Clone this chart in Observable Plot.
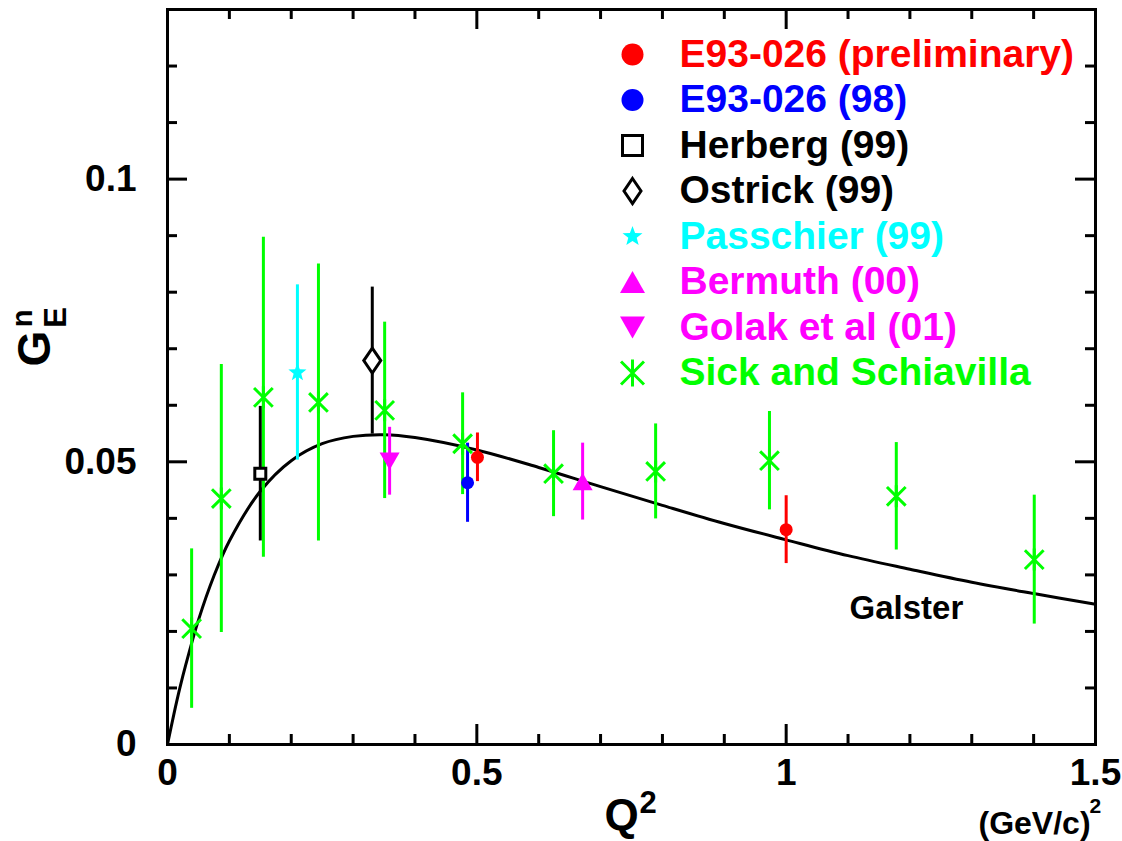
<!DOCTYPE html>
<html>
<head>
<meta charset="utf-8">
<script src="https://cdn.jsdelivr.net/npm/d3@7"></script>
<script src="https://cdn.jsdelivr.net/npm/@observablehq/plot@0.6"></script>
<style>
  html, body { margin: 0; padding: 0; background: #ffffff; }
  #chart svg { display: block; }
</style>
</head>
<body>
<div id="chart"></div>
<script>
// ---------------- data ----------------
const seriesNames = ["E93-026 (preliminary)", "E93-026 (98)", "Herberg (99)", "Ostrick (99)",
  "Passchier (99)", "Bermuth (00)", "Golak et al (01)", "Sick and Schiavilla"];
const seriesColors = ["#ff0000", "#0000ff", "#000000", "#000000", "#00ffff", "#ff00ff", "#ff00ff", "#00ff00"];

const e93PrelimQ2 = [0.501, 1.0];
const e93PrelimGE = [0.0508, 0.0380];
const e93PrelimErr = [0.0043, 0.0060];

const e93_98Q2 = [0.485];
const e93_98GE = [0.0463];
const e93_98Err = [0.0070];

const herbergQ2 = [0.150];
const herbergGE = [0.0479];
const herbergErr = [0.0119];

const ostrickQ2 = [0.331];
const ostrickGE = [0.0679];
const ostrickErr = [0.0130];

const passchierQ2 = [0.210];
const passchierGE = [0.0658];
const passchierErr = [0.0155];

const bermuthQ2 = [0.671];
const bermuthGE = [0.0465];
const bermuthErr = [0.0068];

const golakQ2 = [0.359];
const golakGE = [0.0501];
const golakErr = [0.0060];

const sickQ2 = [0.039, 0.087, 0.155, 0.244, 0.351, 0.477, 0.624, 0.789, 0.973, 1.178, 1.401];
const sickGE = [0.0205, 0.0435, 0.0614, 0.0605, 0.0591, 0.0532, 0.0479, 0.0483, 0.0502, 0.0439, 0.0327];
const sickErr = [0.0141, 0.0237, 0.0283, 0.0245, 0.0156, 0.0090, 0.0076, 0.0084, 0.0087, 0.0095, 0.0114];

// Galster curve, values
const galsterQ2 = [0, 0.01, 0.02, 0.03, 0.05, 0.075, 0.1, 0.15, 0.2, 0.25, 0.3, 0.35, 0.4, 0.5, 0.6, 0.7, 0.8, 0.9, 1.0, 1.1, 1.2, 1.3, 1.4, 1.5];
const galsterGE = [0, 0.0052, 0.0100, 0.0143, 0.0220, 0.0298, 0.0360, 0.0448, 0.0502, 0.0532, 0.0545, 0.0548, 0.0543, 0.0521, 0.0490, 0.0456, 0.0423, 0.0391, 0.0362, 0.0334, 0.0310, 0.0287, 0.0267, 0.0248];
const galsterLabel = "Galster";

const xTickLabels = [0, 0.5, 1, 1.5];
const xMajorTicks = [0, 0.5, 1, 1.5];
const xMinorTicks = [0.1, 0.2, 0.3, 0.4, 0.6, 0.7, 0.8, 0.9, 1.1, 1.2, 1.3, 1.4];
const yTickLabels = [0, 0.05, 0.1];
const yMajorTicks = [0, 0.05, 0.1];
const yMinorTicks = [0.01, 0.02, 0.03, 0.04, 0.06, 0.07, 0.08, 0.09, 0.11, 0.12];

// ---------------- layout ----------------
const W = 1122, H = 841;
const mL = 167, mR = 27, mT = 9, mB = 97;
const innerW = W - mL - mR, innerH = H - mT - mB;
const FONT = "'Liberation Sans', Arial, Helvetica, sans-serif";

// custom marker shapes (radius = sqrt(size/pi))
const shape = fn => ({ draw(ctx, size) { fn(ctx, Math.sqrt(size / Math.PI)); } });
const SQUARE = shape((c, r) => { c.moveTo(-r, -r); c.lineTo(r, -r); c.lineTo(r, r); c.lineTo(-r, r); c.closePath(); });
const DIAMOND = shape((c, r) => { const w = 0.68 * r; c.moveTo(0, -r); c.lineTo(w, 0); c.lineTo(0, r); c.lineTo(-w, 0); c.closePath(); });
const STAR = shape((c, r) => {
  const ri = 0.42 * r;
  for (let i = 0; i < 10; i++) {
    const a = -Math.PI / 2 + i * Math.PI / 5, rr = i % 2 ? ri : r;
    const px = rr * Math.cos(a), py = rr * Math.sin(a);
    if (i === 0) c.moveTo(px, py); else c.lineTo(px, py);
  }
  c.closePath();
});
const TRI_UP = shape((c, r) => { const h = 0.875 * r; c.moveTo(0, -h); c.lineTo(r, h); c.lineTo(-r, h); c.closePath(); });
const TRI_DOWN = shape((c, r) => { const h = 0.875 * r; c.moveTo(0, h); c.lineTo(r, -h); c.lineTo(-r, -h); c.closePath(); });
const ASTER = shape((c, r) => {
  const d = 0.85 * r;
  c.moveTo(0, -r); c.lineTo(0, r);
  c.moveTo(-d, -d); c.lineTo(d, d);
  c.moveTo(-d, d); c.lineTo(d, -d);
});

const seriesData = [
  [e93PrelimQ2, e93PrelimGE, e93PrelimErr],
  [e93_98Q2, e93_98GE, e93_98Err],
  [herbergQ2, herbergGE, herbergErr],
  [ostrickQ2, ostrickGE, ostrickErr],
  [passchierQ2, passchierGE, passchierErr],
  [bermuthQ2, bermuthGE, bermuthErr],
  [golakQ2, golakGE, golakErr],
  [sickQ2, sickGE, sickErr]
];
// marker style per series: [symbol, data r, legend r, filled?]
const markerStyle = [
  ["circle", 6.5, 11, true],
  ["circle", 6.5, 11, true],
  [SQUARE, 5.5, 10, false],
  [DIAMOND, 12.5, 12.5, false],
  [STAR, 9.5, 10.5, true],
  [TRI_UP, 10, 12.5, true],
  [TRI_DOWN, 10, 12.5, true],
  [ASTER, 11, 13.5, null]
];

const rows = [];
seriesNames.forEach((name, s) => {
  const [q, g, e] = seriesData[s];
  q.forEach((v, i) => rows.push({ series: name, s, q2: v, ge: g[i], lo: g[i] - e[i], hi: g[i] + e[i] }));
});
const galster = galsterQ2.map((q, i) => ({ q2: q, ge: galsterGE[i] }));

const marks = [];

// Galster curve
marks.push(Plot.line(galster, { x: "q2", y: "ge", curve: "catmull-rom", stroke: "#000", strokeWidth: 3 }));

// error bars
seriesNames.forEach((name, s) => {
  marks.push(Plot.ruleX(rows.filter(d => d.s === s), { x: "q2", y1: "lo", y2: "hi", stroke: seriesColors[s], strokeWidth: 3 }));
});

// data markers
function dotStyle(s, legend) {
  const [sym, r, rl, filled] = markerStyle[s];
  const col = seriesColors[s];
  const o = { symbol: sym, r: legend ? rl : r };
  if (filled === true) { o.fill = col; o.stroke = "none"; }
  else if (filled === false) { o.fill = "#ffffff"; o.stroke = col; o.strokeWidth = 3; }
  else { o.fill = "none"; o.stroke = col; o.strokeWidth = 3; }
  return o;
}
seriesNames.forEach((name, s) => {
  marks.push(Plot.dot(rows.filter(d => d.s === s), { x: "q2", y: "ge", ...dotStyle(s, false) }));
});

// legend
const legY0 = 54, legStep = 45.5, legMarkX = 632, legTextX = 679;
seriesNames.forEach((name, s) => {
  const dy = legY0 + s * legStep - mT;
  marks.push(Plot.dot([name], { frameAnchor: "top-left", dx: legMarkX - mL, dy, ...dotStyle(s, true) }));
  marks.push(Plot.text([name], {
    text: d => d, frameAnchor: "top-left", dx: legTextX - mL, dy,
    textAnchor: "start", lineAnchor: "middle", fill: seriesColors[s],
    fontSize: 39, fontWeight: "bold", fontFamily: FONT
  }));
});

// Galster label
marks.push(Plot.text([galsterLabel], {
  text: d => d, frameAnchor: "top-left", dx: 849 - mL, dy: 608 - mT,
  textAnchor: "start", lineAnchor: "middle", fill: "#000",
  fontSize: 33, fontWeight: "bold", fontFamily: FONT
}));

// frame
marks.push(Plot.frame({ stroke: "#000", strokeWidth: 3 }));

// ticks (inward, on all four sides)
const tickOpts = { stroke: "#000", strokeWidth: 3 };
marks.push(Plot.ruleX(xMinorTicks, { x: d => d, insetTop: innerH - 10, ...tickOpts }));
marks.push(Plot.ruleX(xMajorTicks, { x: d => d, insetTop: innerH - 20, ...tickOpts }));
marks.push(Plot.ruleX(xMinorTicks, { x: d => d, insetBottom: innerH - 10, ...tickOpts }));
marks.push(Plot.ruleX(xMajorTicks, { x: d => d, insetBottom: innerH - 20, ...tickOpts }));
marks.push(Plot.ruleY(yMinorTicks, { y: d => d, insetRight: innerW - 10, ...tickOpts }));
marks.push(Plot.ruleY(yMajorTicks, { y: d => d, insetRight: innerW - 20, ...tickOpts }));
marks.push(Plot.ruleY(yMinorTicks, { y: d => d, insetLeft: innerW - 10, ...tickOpts }));
marks.push(Plot.ruleY(yMajorTicks, { y: d => d, insetLeft: innerW - 20, ...tickOpts }));

// tick labels
const tickFont = { fontSize: 37, fontWeight: "bold", fontFamily: FONT, fill: "#000" };
marks.push(Plot.text(xTickLabels, { x: d => d, text: d => String(d), frameAnchor: "bottom", dy: 40.5, textAnchor: "middle", lineAnchor: "bottom", ...tickFont }));
marks.push(Plot.text(yTickLabels, { y: d => d, text: d => String(d), frameAnchor: "left", dx: -31, textAnchor: "end", lineAnchor: "middle", ...tickFont }));

// axis titles
const bold = { fontWeight: "bold", fontFamily: FONT, fill: "#000" };
marks.push(Plot.text(["Q"], { text: d => d, frameAnchor: "top-left", dx: 604 - mL, dy: 829 - mT, textAnchor: "start", lineAnchor: "bottom", fontSize: 44, ...bold }));
marks.push(Plot.text(["2"], { text: d => d, frameAnchor: "top-left", dx: 639 - mL, dy: 812 - mT, textAnchor: "start", lineAnchor: "bottom", fontSize: 31, ...bold }));
marks.push(Plot.text(["(GeV/c)"], { text: d => d, frameAnchor: "top-left", dx: 978 - mL, dy: 833 - mT, textAnchor: "start", lineAnchor: "bottom", fontSize: 32, ...bold }));
marks.push(Plot.text(["2"], { text: d => d, frameAnchor: "top-left", dx: 1089 - mL, dy: 812 - mT, textAnchor: "start", lineAnchor: "bottom", fontSize: 21, ...bold }));

marks.push(Plot.text(["G"], { text: d => d, frameAnchor: "top-left", dx: 35 - mL, dy: 348 - mT, rotate: -90, textAnchor: "middle", lineAnchor: "middle", fontSize: 46, ...bold }));
marks.push(Plot.text(["n"], { text: d => d, frameAnchor: "top-left", dx: 22 - mL, dy: 318 - mT, rotate: -90, textAnchor: "middle", lineAnchor: "middle", fontSize: 29, ...bold }));
marks.push(Plot.text(["E"], { text: d => d, frameAnchor: "top-left", dx: 56 - mL, dy: 317 - mT, rotate: -90, textAnchor: "middle", lineAnchor: "middle", fontSize: 31, ...bold }));

const chart = Plot.plot({
  width: W, height: H,
  marginLeft: mL, marginRight: mR, marginTop: mT, marginBottom: mB,
  style: { background: "#ffffff", fontFamily: FONT, overflow: "visible" },
  x: { domain: [0, 1.5], axis: null },
  y: { domain: [0, 0.13], axis: null },
  marks
});
document.getElementById("chart").appendChild(chart);
</script>
</body>
</html>
